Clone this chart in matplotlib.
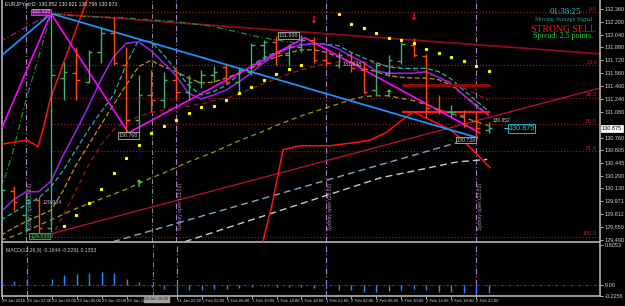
import matplotlib
matplotlib.use("Agg")
import matplotlib.pyplot as plt
import numpy as np
import logging
logging.getLogger('matplotlib.font_manager').setLevel(logging.ERROR)

# ---------------- data ----------------
bar_idx = list(range(40))
bar_open = [129.93, 130.10, 129.80, 129.99, 129.64, 131.50, 131.56, 131.45, 131.82, 132.06,
            131.66, 130.98, 131.29, 131.23, 131.48, 131.33, 131.45, 131.54, 131.64, 131.45,
            131.58, 131.91, 131.95, 131.79, 131.89, 131.97, 131.72, 131.66, 131.79, 131.60,
            131.35, 131.56, 131.71, 131.91, 131.77, 131.12, 131.08, 131.04, 130.97, 130.86]
bar_high = [130.17, 130.16, 130.05, 130.03, 132.30, 131.70, 131.89, 131.85, 132.12, 132.26,
            131.89, 131.54, 131.60, 131.58, 131.62, 131.54, 131.60, 131.65, 131.67, 131.62,
            131.93, 131.97, 132.02, 131.92, 132.03, 132.01, 131.81, 131.82, 131.82, 131.70,
            131.69, 131.79, 131.95, 132.00, 131.80, 131.29, 131.17, 131.10, 131.08, 130.95]
bar_low = [129.72, 129.86, 129.59, 129.54, 129.59, 131.23, 131.23, 131.44, 131.69, 131.66,
           130.79, 130.83, 131.08, 131.13, 131.23, 131.23, 131.38, 131.45, 131.44, 131.33,
           131.54, 131.72, 131.66, 131.65, 131.82, 131.69, 131.65, 131.62, 131.58, 131.31,
           131.29, 131.53, 131.67, 131.76, 131.00, 131.05, 131.02, 130.89, 130.75, 130.82]
bar_close = [130.11, 129.96, 129.99, 129.64, 131.54, 131.58, 131.48, 131.82, 132.06, 131.69,
             130.98, 131.29, 131.23, 131.48, 131.33, 131.45, 131.54, 131.58, 131.45, 131.60,
             131.91, 131.95, 131.81, 131.89, 131.97, 131.72, 131.69, 131.79, 131.62, 131.33,
             131.66, 131.72, 131.92, 131.79, 131.13, 131.10, 131.08, 130.92, 130.88, 130.875]

ma_purple = [129.84, 129.99, 130.09, 130.09, 130.22, 130.55, 130.84, 131.15, 131.48, 131.76,
             131.93, 131.95, 131.84, 131.69, 131.53, 131.31, 131.24, 131.29, 131.35, 131.45,
             131.56, 131.69, 131.80, 131.87, 131.91, 131.93, 131.92, 131.86, 131.77, 131.69,
             131.59, 131.56, 131.56, 131.56, 131.58, 131.51, 131.43, 131.29, 131.15, 131.04]
ma_teal = [129.74, 129.83, 129.93, 130.01, 130.15, 130.36, 130.61, 130.86, 131.08, 131.29,
           131.66, 131.97, 131.95, 131.79, 131.60, 131.41, 131.29, 131.33, 131.41, 131.54,
           131.65, 131.75, 131.82, 131.87, 131.91, 131.92, 131.92, 131.90, 131.82, 131.75,
           131.69, 131.64, 131.62, 131.62, 131.62, 131.58, 131.49, 131.35, 131.22, 131.09]
ma_olive = [129.55, 129.64, 129.72, 129.79, 129.86, 130.11, 130.42, 130.67, 130.92, 131.17,
            131.41, 131.64, 131.72, 131.64, 131.58, 131.50, 131.44, 131.45, 131.50, 131.56,
            131.62, 131.70, 131.76, 131.81, 131.85, 131.85, 131.82, 131.76, 131.70, 131.62,
            131.58, 131.53, 131.51, 131.50, 131.50, 131.48, 131.41, 131.29, 131.17, 131.04]
ma_slow = [129.49, 129.54, 129.60, 129.67, 129.74, 129.81, 129.88, 129.94, 130.00, 130.06,
           130.12, 130.19, 130.26, 130.32, 130.39, 130.46, 130.52, 130.58, 130.65, 130.72,
           130.78, 130.84, 130.91, 130.97, 131.03, 131.08, 131.13, 131.18, 131.23, 131.27,
           131.28, 131.28, 131.25, 131.22, 131.17, 131.11, 131.06, 131.01, 130.96, 130.91]
ma_darkred = [np.nan, np.nan, np.nan, np.nan, 129.52, 129.80, 130.11, 130.42, 130.67, 130.86,
              130.96, 131.02, 131.07, 131.10, 131.13, 131.15, 131.18, 131.22, 131.25, 131.30,
              131.37, 131.43, 131.49, 131.55, 131.60, 131.64, 131.68, 131.70, 131.71, 131.70,
              131.68, 131.65, 131.63, 131.60, 131.56, 131.51, 131.45, 131.38, 131.30, 131.23]
ma_green = [130.11, 130.61, 131.23, 131.75, 132.30, 132.28, 132.27, 132.26, 132.26, 132.25,
            132.25, 132.23, 132.22, 132.21, 132.20, 132.18, 132.16, 132.14, 132.10, 132.07,
            132.03, 132.00, 131.97, 131.95, 131.92] + [np.nan] * 15

sar = [np.nan, np.nan, np.nan, np.nan, np.nan, 129.67, 129.80, 129.95, 130.12, 130.32,
       130.51, 130.67, 130.82, 130.91, 130.98, 131.07, 131.14, 131.15, 131.23, 131.31,
       131.39, 131.48, 131.55, 131.61, 131.66, np.nan, np.nan, 132.30, 132.17, 132.12,
       132.06, 132.00, 131.97, 131.93, 131.86, 131.81, 131.76, 131.71, 131.65, 131.59]

macd_hist = [0.086, 0.074, 0.113, 0.004, 0.113, 0.193, 0.213, 0.239, 0.259, 0.233,
             0.125, 0.054, -0.034, -0.080, -0.133, -0.105, -0.105, -0.086, -0.080, -0.066,
             -0.046, -0.026, -0.034, -0.034, -0.034, -0.054, -0.054, -0.100, -0.113, -0.139,
             -0.139, -0.119, -0.105, -0.086, -0.105, -0.145, -0.145, -0.165, -0.173, -0.173]

# trend lines (bar index, price)
blue_x, blue_y = [-0.1, 4.0, 38.1], [131.76, 132.30, 130.76]
zig_x, zig_y = [-0.1, 4.0, 10.2, 24.3, 38.3], [130.82, 132.30, 130.82, 132.00, 130.82]
top_x, top_y = [4.0, 48.0], [132.30, 131.80]
low_x, low_y = [3.1, 48.0], [129.53, 131.38]
steel_x, steel_y = [8.96, 38.1], [129.47, 130.77]
grey_x, grey_y = [14.7, 30.3, 36.5, 38.9], [129.47, 130.26, 130.46, 130.49]
red1_x = [0.08, 2.08, 2.96, 3.36, 3.92, 6.88, 7.3]
red1_y = [130.68, 130.73, 130.65, 130.86, 131.23, 132.47, 132.60]
red2_x = [20.88, 21.68, 22.56, 23.92, 26.32, 28.32, 29.52, 30.88, 31.92, 32.96, 34.08, 35.92, 36.96, 39.12]
red2_y = [129.43, 129.93, 130.61, 130.66, 130.66, 130.70, 130.73, 130.83, 130.96, 131.08, 131.00, 130.86, 130.73, 130.39]

fib_high, fib_low = 132.32, 129.53
fib_ratios = [0.0, 23.6, 38.2, 50.0, 61.8, 100.0]

price_ticks = [132.360, 132.200, 132.040, 131.880, 131.720, 131.560, 131.400, 131.240, 131.080,
               130.760, 130.605, 130.445, 130.290, 130.130, 129.971, 129.811, 129.650, 129.490]
current_price = 130.875

xtick_idx = [0, 2, 4, 6, 8, 10, 14, 16, 18, 20, 22, 24, 26, 28, 30, 32, 34, 36, 38]
xtick_lbl = ["28 Jan 2016", "28 Jan 22:00", "29 Jan 02:00", "29 Jan 06:00", "29 Jan 10:00",
             "29 Jan 14:00", "31 Jan 22:00", "1 Feb 02:00", "1 Feb 06:00", "1 Feb 10:00",
             "1 Feb 14:00", "1 Feb 18:00", "1 Feb 22:00", "2 Feb 02:00", "2 Feb 06:00",
             "2 Feb 10:00", "2 Feb 14:00", "2 Feb 18:00", "2 Feb 22:00"]
day_sep = [2, 14, 26, 38]
cursor_idx = 12.08

# ---------------- figure ----------------
W, H = 625, 306
plt.rcParams['font.family'] = ['Liberation Sans', 'DejaVu Sans']
fig = plt.figure(figsize=(W / 100, H / 100), dpi=100, facecolor='black')
ax = fig.add_axes([2 / W, 1 - 242 / H, 598 / W, 242 / H], facecolor='black')
mx = fig.add_axes([2 / W, 1 - 296 / H, 598 / W, 52 / H], facecolor='black')

XL = (0.08, 47.92)
for a in (ax, mx):
    a.set_xlim(*XL)
    a.spines['top'].set_visible(False)
    for s in ('left', 'right', 'bottom'):
        a.spines[s].set_color('#B4B4B4')
        a.spines[s].set_linewidth(1.2)
ax.set_ylim(129.466, 132.468)
mx.set_ylim(-0.225, 0.83)

# fib levels
rng = fib_high - fib_low
for r in fib_ratios:
    lvl = fib_high - r / 100 * rng
    ax.hlines(lvl, 4.0, XL[1], colors='#8E1A2E', linestyles=(0, (1, 1.5)), lw=0.9, zorder=1)
    ax.text(XL[1] - 0.25, lvl + 0.005, f"{r:.1f}", color='#B0203A', fontsize=4.0,
            ha='right', va='bottom', zorder=6)

# vertical separators
for d in day_sep:
    for a in (ax, mx):
        a.axvline(d, color='#A982C0', ls=(0, (5, 2, 1, 2)), lw=0.8, zorder=1)
    ax.text(d + 0.15, 129.62, "Sydney open (22:00)", rotation=90, color='#B890D0',
            fontsize=3.6, ha='left', va='bottom', zorder=6)
for a in (ax, mx):
    a.axvline(cursor_idx, color='#8C8C8C', ls=(0, (5, 2, 1, 2)), lw=0.7, zorder=1)

# slow lines
ax.plot(steel_x, steel_y, color='#7FA6C8', ls=(0, (5, 3)), lw=1.0, zorder=2)
ax.plot(grey_x, grey_y, color='#C8C8C8', ls=(0, (5, 3)), lw=1.0, zorder=2)
ax.plot(low_x, low_y, color='#C0103A', lw=0.9, zorder=2)
ax.plot(top_x, top_y, color='#8B0A20', lw=1.3, zorder=2)

# moving averages
ax.plot(bar_idx, ma_slow, color='#A09A10', ls=(0, (4, 3)), lw=0.9, zorder=3)
ax.plot(bar_idx, ma_darkred, color='#A01818', ls=(0, (4, 3)), lw=0.9, zorder=3)
ax.plot(bar_idx, ma_olive, color='#C09010', ls=(0, (4, 2)), lw=0.9, zorder=3)
ax.plot(bar_idx, ma_teal, color='#20B2AA', ls=(0, (4, 2)), lw=0.9, zorder=3)
ax.plot(bar_idx, ma_green, color='#1E8C2E', ls=(0, (5, 2, 1, 2)), lw=0.9, zorder=3)
ax.plot(bar_idx, ma_purple, color='#A020F0', lw=1.1, zorder=3)

# red indicator line
ax.plot(red1_x, red1_y, color='#FF1010', lw=1.1, zorder=3)
ax.plot(red2_x, red2_y, color='#FF1010', lw=1.1, zorder=3)
ax.hlines(131.08, 32.1, 39.1, colors='#FF1A1A', lw=1.6, zorder=3)
ax.hlines(131.41, 32.1, 39.1, colors='#8B0A10', lw=2.2, zorder=3)

# trend lines
ax.plot(blue_x, blue_y, color='#1E90FF', lw=1.3, zorder=4)
ax.plot(zig_x, zig_y, color='#FF00FF', lw=1.2, zorder=4)
ax.plot([-0.1, 4.0], [131.95, 132.30], color='#9A2AA0', ls=(0, (5, 2, 1, 2)), lw=0.9, zorder=4)

# OHLC bars
for i, o, h, l, c in zip(bar_idx, bar_open, bar_high, bar_low, bar_close):
    col = '#3CB371' if c >= o else '#FF4A12'
    ax.vlines(i, l, h, colors=col, lw=1.0, zorder=5)
    ax.hlines(o, i - 0.3, i, colors=col, lw=1.0, zorder=5)
    ax.hlines(c, i, i + 0.3, colors=col, lw=1.0, zorder=5)

# SAR dots
ax.plot(bar_idx, sar, ls='none', marker='s', ms=1.3, color='#FFFF00', zorder=5)

# arrows
for xa, ya, s, cl in [(25, 132.22, "\u2193", '#FF1A1A'), (33, 132.26, "\u2193", '#FF1A1A'),
                      (11, 130.19, "\u2191", '#32FF32'), (31, 131.30, "\u2191", '#32FF32')]:
    ax.text(xa, ya, s, color=cl, fontsize=7, fontweight='bold', ha='center', va='center',
            family='DejaVu Sans', zorder=6)

# price labels
def box(x, y, s, fc, ec, tc, fs=3.8):
    ax.text(x, y, s, color=tc, fontsize=fs, ha='center', va='center', zorder=7,
            bbox=dict(boxstyle='square,pad=0.15', fc=fc, ec=ec, lw=0.6))

box(3.2, 132.32, "132.335", '#7A1A8A', '#D040E0', '#FFB0FF')
box(23.0, 132.03, "131.998", 'black', '#B4B4B4', '#C8C8C8')
box(10.2, 130.79, "130.768", 'black', '#B4B4B4', '#C8C8C8')
box(3.1, 129.54, "129.538", '#0A2A0A', '#3CB371', '#3CB371')
box(37.2, 130.73, "130.728", 'black', '#B4B4B4', '#C8C8C8')
ax.text(4.1, 129.95, "129.984", color='#D8A0E8', fontsize=3.8, ha='center', va='center', zorder=7)
ax.text(28.1, 131.67, "131.648", color='#C8C8C8', fontsize=3.8, ha='center', va='center', zorder=7)
ax.text(39.3, 130.975, "130.852", color='#C8C8C8', fontsize=3.5, ha='left', va='center', zorder=7)
ax.text(40.6, current_price, "130.875", color='#20D0E0', fontsize=5.2, ha='left', va='center', zorder=7,
        bbox=dict(boxstyle='square,pad=0.1', fc='black', ec='#20D0E0', lw=0.6))
ax.hlines(current_price, 40.2, 40.6, colors='#20D0E0', lw=0.8, zorder=7)

# right axis
ax.yaxis.tick_right()
ax.set_yticks(price_ticks)
ax.set_yticklabels([f"{v:.3f}" for v in price_ticks])
ax.tick_params(axis='y', colors='#D0D0D0', labelsize=4.0, length=2, width=0.6, pad=1.5)
ax.tick_params(axis='x', bottom=False, labelbottom=False)
ax.text(1.003, current_price, f"{current_price:.3f}", transform=ax.get_yaxis_transform(),
        color='black', fontsize=4.0, ha='left', va='center', zorder=8,
        bbox=dict(boxstyle='square,pad=0.15', fc='white', ec='white', lw=0.5), clip_on=False)

# MACD panel
mx.vlines(bar_idx, 0, macd_hist, colors='#1E90FF', lw=1.0, zorder=3)
mx.axhline(0, color='#B0102A', ls=(0, (3, 1.5, 1, 1.5)), lw=0.8, zorder=2)
mx.yaxis.tick_right()
mx.set_yticks([0.8053, 0.0, -0.2256])
mx.set_yticklabels(["0.8053", "0.00", "-0.2256"])
mx.tick_params(axis='y', colors='#D0D0D0', labelsize=4.0, length=2, width=0.6, pad=1.5)
mx.text(0.006, 0.93, "MACD(12,26,9) -0.1644 -0.2291 0.1353", transform=mx.transAxes,
        color='#C8C8C8', fontsize=3.7, ha='left', va='top')

mx.set_xticks(xtick_idx)
mx.set_xticklabels(xtick_lbl)
mx.tick_params(axis='x', colors='#D0D0D0', labelsize=3.1, length=2, width=0.6, pad=0.3)
for t in mx.get_xticklabels():
    t.set_ha('left')
    t.set_family(['Liberation Sans Narrow', 'Liberation Sans'])
mx.text(cursor_idx + 0.3, -0.245, "29 Jan 18:00", color='#202020', fontsize=3.1, ha='center', va='top',
        zorder=9, clip_on=False, transform=mx.transData,
        family=['Liberation Sans Narrow', 'Liberation Sans'],
        bbox=dict(boxstyle='square,pad=0.2', fc='#A0A0A0', ec='#A0A0A0'))

# header texts
fig.text(5 / W, 1 - 4 / H, "EURJPYmH2  130.852 130.921 130.796 130.873", color='#E0E0E0',
         fontsize=3.7, ha='left', va='center')
fig.text(565 / W, 1 - 12 / H, "01:38:25", color='#20C8D8', fontsize=6.3, ha='center', va='center',
         family='Liberation Serif')
fig.text(564 / W, 1 - 20 / H, "Moving Average Signal", color='#20A89A', fontsize=4.3,
         ha='center', va='center', family='Liberation Serif')
fig.text(563 / W, 1 - 29 / H, "STRONG SELL", color='#FF1010', fontsize=7, ha='center', va='center',
         family='Liberation Serif')
fig.text(563 / W, 1 - 36 / H, "Spread: 2.5 points.", color='#32CD32', fontsize=5.8, ha='center',
         va='center', family='Liberation Serif')

fig.savefig("out.png", dpi=100, facecolor='black')
